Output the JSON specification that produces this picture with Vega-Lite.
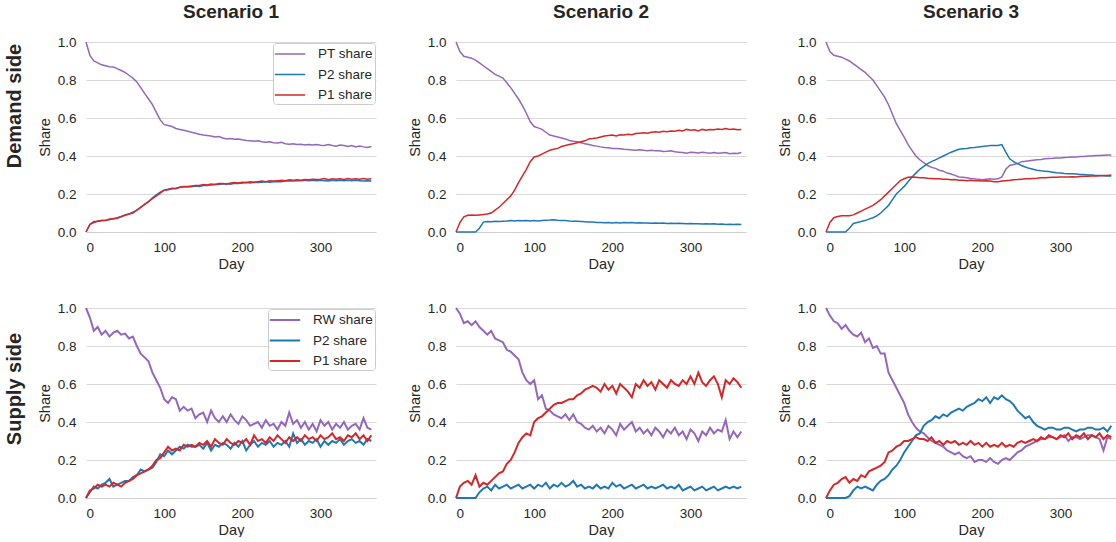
{
"$schema":"https://vega.github.io/schema/vega-lite/v6.json",
"padding":{"left":5,"top":3,"right":0,"bottom":0},
"background":"white",
"config":{
 "view":{"stroke":null},
 "font":"Liberation Sans",
 "axis":{"labelFont":"Liberation Sans","titleFont":"Liberation Sans","labelFontSize":13.5,"titleFontSize":14.5,"labelColor":"#262626","titleColor":"#262626","titleFontWeight":"normal","ticks":false,"tickSize":0,"domain":false,"gridColor":"#d9d9d9","gridWidth":1},
 "axisX":{"grid":false,"domain":true,"domainColor":"#d0d0d0","domainWidth":1.2,"labelPadding":8,"titlePadding":4},
 "axisY":{"labelPadding":10,"titlePadding":5},
 "legend":{"labelFont":"Liberation Sans","labelFontSize":13.5,"labelColor":"#262626"}
},
"datasets":{
"d1":[
{"d":0,"a":1.0,"b":0,"c":0},{"d":5,"a":0.93,"b":0.04,"c":0.04},{"d":10,"a":0.90,"b":0.055,"c":0.05},{"d":15,"a":0.89,"b":0.055,"c":0.058},{"d":20,"a":0.88,"b":0.06,"c":0.06},{"d":25,"a":0.875,"b":0.062,"c":0.06},{"d":30,"a":0.87,"b":0.065,"c":0.068},{"d":35,"a":0.868,"b":0.07,"c":0.07},{"d":40,"a":0.86,"b":0.075,"c":0.072},{"d":45,"a":0.85,"b":0.082,"c":0.08},{"d":50,"a":0.84,"b":0.09,"c":0.088},{"d":55,"a":0.825,"b":0.095,"c":0.095},{"d":60,"a":0.81,"b":0.105,"c":0.10},{"d":65,"a":0.79,"b":0.115,"c":0.115},{"d":70,"a":0.76,"b":0.13,"c":0.13},{"d":75,"a":0.73,"b":0.145,"c":0.145},{"d":80,"a":0.70,"b":0.16,"c":0.16},{"d":85,"a":0.67,"b":0.18,"c":0.175},{"d":90,"a":0.63,"b":0.195,"c":0.19},{"d":95,"a":0.59,"b":0.21,"c":0.205},{"d":100,"a":0.565,"b":0.22,"c":0.22},{"d":105,"a":0.56,"b":0.225,"c":0.222},{"d":110,"a":0.555,"b":0.23,"c":0.228},{"d":115,"a":0.545,"b":0.228,"c":0.23},{"d":120,"a":0.54,"b":0.235,"c":0.235},{"d":125,"a":0.535,"b":0.238,"c":0.24},{"d":130,"a":0.53,"b":0.24,"c":0.238},{"d":135,"a":0.525,"b":0.238,"c":0.242},{"d":140,"a":0.52,"b":0.242,"c":0.245},{"d":145,"a":0.515,"b":0.24,"c":0.245},{"d":150,"a":0.51,"b":0.245,"c":0.25},{"d":155,"a":0.508,"b":0.245,"c":0.248},{"d":160,"a":0.505,"b":0.248,"c":0.252},{"d":165,"a":0.50,"b":0.25,"c":0.25},{"d":170,"a":0.502,"b":0.25,"c":0.255},{"d":175,"a":0.495,"b":0.252,"c":0.255},{"d":180,"a":0.49,"b":0.255,"c":0.252},{"d":185,"a":0.492,"b":0.252,"c":0.258},{"d":190,"a":0.488,"b":0.256,"c":0.26},{"d":195,"a":0.49,"b":0.255,"c":0.258},{"d":200,"a":0.485,"b":0.258,"c":0.262},{"d":205,"a":0.482,"b":0.26,"c":0.26},{"d":210,"a":0.48,"b":0.258,"c":0.265},{"d":215,"a":0.478,"b":0.262,"c":0.262},{"d":220,"a":0.48,"b":0.26,"c":0.265},{"d":225,"a":0.475,"b":0.262,"c":0.268},{"d":230,"a":0.472,"b":0.265,"c":0.265},{"d":235,"a":0.475,"b":0.262,"c":0.27},{"d":240,"a":0.47,"b":0.265,"c":0.268},{"d":245,"a":0.468,"b":0.266,"c":0.27},{"d":250,"a":0.472,"b":0.265,"c":0.272},{"d":255,"a":0.465,"b":0.268,"c":0.27},{"d":260,"a":0.462,"b":0.27,"c":0.275},{"d":265,"a":0.465,"b":0.268,"c":0.272},{"d":270,"a":0.46,"b":0.27,"c":0.275},{"d":275,"a":0.462,"b":0.27,"c":0.272},{"d":280,"a":0.458,"b":0.272,"c":0.276},{"d":285,"a":0.46,"b":0.27,"c":0.275},{"d":290,"a":0.458,"b":0.272,"c":0.278},{"d":295,"a":0.46,"b":0.27,"c":0.276},{"d":300,"a":0.457,"b":0.272,"c":0.278},{"d":305,"a":0.455,"b":0.27,"c":0.282},{"d":310,"a":0.46,"b":0.268,"c":0.275},{"d":315,"a":0.455,"b":0.272,"c":0.28},{"d":320,"a":0.452,"b":0.27,"c":0.278},{"d":325,"a":0.458,"b":0.272,"c":0.28},{"d":330,"a":0.455,"b":0.27,"c":0.276},{"d":335,"a":0.45,"b":0.272,"c":0.282},{"d":340,"a":0.455,"b":0.27,"c":0.278},{"d":345,"a":0.448,"b":0.272,"c":0.28},{"d":350,"a":0.452,"b":0.27,"c":0.278},{"d":355,"a":0.448,"b":0.268,"c":0.282},{"d":360,"a":0.445,"b":0.27,"c":0.278},{"d":365,"a":0.45,"b":0.268,"c":0.28}
],
"d2":[
{"d":0,"a":1.0,"b":0,"c":0},{"d":5,"a":0.95,"b":0,"c":0.05},{"d":10,"a":0.925,"b":0,"c":0.08},{"d":15,"a":0.92,"b":0,"c":0.088},{"d":20,"a":0.915,"b":0,"c":0.09},{"d":25,"a":0.905,"b":0,"c":0.088},{"d":30,"a":0.89,"b":0.02,"c":0.09},{"d":35,"a":0.875,"b":0.052,"c":0.092},{"d":40,"a":0.86,"b":0.055,"c":0.095},{"d":45,"a":0.845,"b":0.054,"c":0.10},{"d":50,"a":0.83,"b":0.056,"c":0.115},{"d":55,"a":0.82,"b":0.055,"c":0.13},{"d":60,"a":0.81,"b":0.057,"c":0.15},{"d":65,"a":0.785,"b":0.058,"c":0.17},{"d":70,"a":0.76,"b":0.06,"c":0.19},{"d":75,"a":0.73,"b":0.058,"c":0.22},{"d":80,"a":0.70,"b":0.06,"c":0.26},{"d":85,"a":0.665,"b":0.059,"c":0.295},{"d":90,"a":0.625,"b":0.06,"c":0.33},{"d":95,"a":0.58,"b":0.058,"c":0.37},{"d":100,"a":0.555,"b":0.06,"c":0.395},{"d":105,"a":0.548,"b":0.058,"c":0.40},{"d":110,"a":0.54,"b":0.06,"c":0.41},{"d":115,"a":0.525,"b":0.062,"c":0.42},{"d":120,"a":0.51,"b":0.063,"c":0.43},{"d":125,"a":0.505,"b":0.065,"c":0.435},{"d":130,"a":0.50,"b":0.062,"c":0.44},{"d":135,"a":0.495,"b":0.06,"c":0.45},{"d":140,"a":0.49,"b":0.06,"c":0.455},{"d":145,"a":0.482,"b":0.058,"c":0.46},{"d":150,"a":0.478,"b":0.057,"c":0.465},{"d":155,"a":0.475,"b":0.056,"c":0.47},{"d":160,"a":0.47,"b":0.055,"c":0.475},{"d":165,"a":0.465,"b":0.054,"c":0.48},{"d":170,"a":0.46,"b":0.053,"c":0.49},{"d":175,"a":0.455,"b":0.052,"c":0.492},{"d":180,"a":0.452,"b":0.05,"c":0.495},{"d":185,"a":0.448,"b":0.05,"c":0.50},{"d":190,"a":0.445,"b":0.049,"c":0.505},{"d":195,"a":0.443,"b":0.05,"c":0.508},{"d":200,"a":0.44,"b":0.048,"c":0.51},{"d":205,"a":0.44,"b":0.05,"c":0.505},{"d":210,"a":0.438,"b":0.048,"c":0.512},{"d":215,"a":0.435,"b":0.05,"c":0.51},{"d":220,"a":0.434,"b":0.049,"c":0.515},{"d":225,"a":0.432,"b":0.05,"c":0.512},{"d":230,"a":0.43,"b":0.048,"c":0.518},{"d":235,"a":0.433,"b":0.049,"c":0.52},{"d":240,"a":0.43,"b":0.047,"c":0.522},{"d":245,"a":0.428,"b":0.048,"c":0.52},{"d":250,"a":0.43,"b":0.046,"c":0.525},{"d":255,"a":0.427,"b":0.047,"c":0.528},{"d":260,"a":0.428,"b":0.046,"c":0.525},{"d":265,"a":0.424,"b":0.047,"c":0.53},{"d":270,"a":0.425,"b":0.045,"c":0.528},{"d":275,"a":0.427,"b":0.046,"c":0.532},{"d":280,"a":0.422,"b":0.045,"c":0.53},{"d":285,"a":0.42,"b":0.046,"c":0.535},{"d":290,"a":0.418,"b":0.045,"c":0.532},{"d":295,"a":0.415,"b":0.044,"c":0.54},{"d":300,"a":0.42,"b":0.045,"c":0.535},{"d":305,"a":0.418,"b":0.043,"c":0.538},{"d":310,"a":0.416,"b":0.044,"c":0.532},{"d":315,"a":0.42,"b":0.042,"c":0.54},{"d":320,"a":0.417,"b":0.043,"c":0.535},{"d":325,"a":0.415,"b":0.042,"c":0.54},{"d":330,"a":0.418,"b":0.043,"c":0.538},{"d":335,"a":0.414,"b":0.041,"c":0.542},{"d":340,"a":0.416,"b":0.042,"c":0.54},{"d":345,"a":0.418,"b":0.04,"c":0.545},{"d":350,"a":0.412,"b":0.041,"c":0.54},{"d":355,"a":0.415,"b":0.04,"c":0.542},{"d":360,"a":0.413,"b":0.041,"c":0.538},{"d":365,"a":0.418,"b":0.04,"c":0.54}
],
"d3":[
{"d":0,"a":1.0,"b":0,"c":0},{"d":5,"a":0.95,"b":0,"c":0.05},{"d":10,"a":0.93,"b":0,"c":0.075},{"d":15,"a":0.925,"b":0,"c":0.082},{"d":20,"a":0.92,"b":0,"c":0.085},{"d":25,"a":0.91,"b":0,"c":0.085},{"d":30,"a":0.90,"b":0.02,"c":0.085},{"d":35,"a":0.885,"b":0.045,"c":0.09},{"d":40,"a":0.87,"b":0.05,"c":0.10},{"d":45,"a":0.855,"b":0.055,"c":0.11},{"d":50,"a":0.84,"b":0.06,"c":0.12},{"d":55,"a":0.82,"b":0.068,"c":0.13},{"d":60,"a":0.80,"b":0.075,"c":0.14},{"d":65,"a":0.77,"b":0.085,"c":0.155},{"d":70,"a":0.74,"b":0.10,"c":0.17},{"d":75,"a":0.71,"b":0.12,"c":0.19},{"d":80,"a":0.67,"b":0.14,"c":0.21},{"d":85,"a":0.62,"b":0.17,"c":0.23},{"d":90,"a":0.57,"b":0.20,"c":0.25},{"d":95,"a":0.535,"b":0.22,"c":0.27},{"d":100,"a":0.50,"b":0.24,"c":0.28},{"d":105,"a":0.46,"b":0.265,"c":0.288},{"d":110,"a":0.43,"b":0.29,"c":0.29},{"d":115,"a":0.40,"b":0.31,"c":0.288},{"d":120,"a":0.38,"b":0.33,"c":0.285},{"d":125,"a":0.365,"b":0.345,"c":0.285},{"d":130,"a":0.35,"b":0.36,"c":0.283},{"d":135,"a":0.34,"b":0.37,"c":0.282},{"d":140,"a":0.335,"b":0.38,"c":0.28},{"d":145,"a":0.325,"b":0.39,"c":0.28},{"d":150,"a":0.32,"b":0.40,"c":0.278},{"d":155,"a":0.31,"b":0.41,"c":0.277},{"d":160,"a":0.305,"b":0.42,"c":0.275},{"d":165,"a":0.298,"b":0.428,"c":0.276},{"d":170,"a":0.29,"b":0.435,"c":0.273},{"d":175,"a":0.288,"b":0.438,"c":0.272},{"d":180,"a":0.285,"b":0.44,"c":0.27},{"d":185,"a":0.282,"b":0.443,"c":0.272},{"d":190,"a":0.28,"b":0.445,"c":0.27},{"d":195,"a":0.277,"b":0.448,"c":0.27},{"d":200,"a":0.275,"b":0.45,"c":0.268},{"d":205,"a":0.278,"b":0.452,"c":0.27},{"d":210,"a":0.28,"b":0.455,"c":0.268},{"d":215,"a":0.278,"b":0.455,"c":0.265},{"d":220,"a":0.28,"b":0.455,"c":0.265},{"d":225,"a":0.29,"b":0.46,"c":0.268},{"d":230,"a":0.33,"b":0.42,"c":0.27},{"d":235,"a":0.35,"b":0.385,"c":0.272},{"d":240,"a":0.355,"b":0.37,"c":0.275},{"d":245,"a":0.36,"b":0.36,"c":0.276},{"d":250,"a":0.37,"b":0.35,"c":0.278},{"d":255,"a":0.372,"b":0.342,"c":0.28},{"d":260,"a":0.375,"b":0.335,"c":0.28},{"d":265,"a":0.378,"b":0.33,"c":0.282},{"d":270,"a":0.38,"b":0.325,"c":0.283},{"d":275,"a":0.382,"b":0.322,"c":0.285},{"d":280,"a":0.385,"b":0.32,"c":0.285},{"d":285,"a":0.387,"b":0.318,"c":0.287},{"d":290,"a":0.388,"b":0.315,"c":0.288},{"d":295,"a":0.39,"b":0.312,"c":0.288},{"d":300,"a":0.39,"b":0.31,"c":0.29},{"d":305,"a":0.392,"b":0.308,"c":0.29},{"d":310,"a":0.393,"b":0.307,"c":0.29},{"d":315,"a":0.395,"b":0.306,"c":0.291},{"d":320,"a":0.395,"b":0.305,"c":0.29},{"d":325,"a":0.397,"b":0.303,"c":0.292},{"d":330,"a":0.398,"b":0.302,"c":0.293},{"d":335,"a":0.40,"b":0.30,"c":0.293},{"d":340,"a":0.40,"b":0.30,"c":0.295},{"d":345,"a":0.402,"b":0.298,"c":0.295},{"d":350,"a":0.403,"b":0.297,"c":0.296},{"d":355,"a":0.404,"b":0.296,"c":0.297},{"d":360,"a":0.405,"b":0.295,"c":0.298},{"d":365,"a":0.405,"b":0.295,"c":0.30}
],
"d4":[
{"d":0,"a":1.0,"b":0,"c":0},{"d":5,"a":0.95,"b":0.03,"c":0.04},{"d":10,"a":0.88,"b":0.06,"c":0.05},{"d":15,"a":0.90,"b":0.05,"c":0.07},{"d":20,"a":0.86,"b":0.07,"c":0.06},{"d":25,"a":0.88,"b":0.08,"c":0.07},{"d":30,"a":0.85,"b":0.10,"c":0.06},{"d":35,"a":0.87,"b":0.06,"c":0.08},{"d":40,"a":0.88,"b":0.07,"c":0.07},{"d":45,"a":0.86,"b":0.08,"c":0.06},{"d":50,"a":0.865,"b":0.09,"c":0.08},{"d":55,"a":0.84,"b":0.09,"c":0.09},{"d":60,"a":0.85,"b":0.11,"c":0.10},{"d":65,"a":0.80,"b":0.12,"c":0.12},{"d":70,"a":0.76,"b":0.15,"c":0.13},{"d":75,"a":0.74,"b":0.14,"c":0.14},{"d":80,"a":0.72,"b":0.15,"c":0.15},{"d":85,"a":0.66,"b":0.16,"c":0.17},{"d":90,"a":0.62,"b":0.19,"c":0.20},{"d":95,"a":0.58,"b":0.23,"c":0.21},{"d":100,"a":0.52,"b":0.22,"c":0.24},{"d":105,"a":0.50,"b":0.25,"c":0.27},{"d":110,"a":0.53,"b":0.23,"c":0.25},{"d":115,"a":0.52,"b":0.25,"c":0.26},{"d":120,"a":0.46,"b":0.27,"c":0.25},{"d":125,"a":0.48,"b":0.26,"c":0.28},{"d":130,"a":0.46,"b":0.28,"c":0.27},{"d":135,"a":0.47,"b":0.27,"c":0.28},{"d":140,"a":0.42,"b":0.27,"c":0.27},{"d":145,"a":0.44,"b":0.28,"c":0.29},{"d":150,"a":0.45,"b":0.26,"c":0.28},{"d":155,"a":0.40,"b":0.29,"c":0.30},{"d":160,"a":0.46,"b":0.25,"c":0.27},{"d":165,"a":0.42,"b":0.28,"c":0.31},{"d":170,"a":0.40,"b":0.27,"c":0.29},{"d":175,"a":0.43,"b":0.29,"c":0.28},{"d":180,"a":0.40,"b":0.28,"c":0.31},{"d":185,"a":0.44,"b":0.26,"c":0.29},{"d":190,"a":0.41,"b":0.29,"c":0.28},{"d":195,"a":0.39,"b":0.27,"c":0.30},{"d":200,"a":0.43,"b":0.30,"c":0.29},{"d":205,"a":0.41,"b":0.25,"c":0.31},{"d":210,"a":0.38,"b":0.28,"c":0.28},{"d":215,"a":0.39,"b":0.30,"c":0.33},{"d":220,"a":0.40,"b":0.27,"c":0.30},{"d":225,"a":0.37,"b":0.29,"c":0.31},{"d":230,"a":0.41,"b":0.28,"c":0.29},{"d":235,"a":0.38,"b":0.30,"c":0.32},{"d":240,"a":0.39,"b":0.27,"c":0.30},{"d":245,"a":0.36,"b":0.29,"c":0.33},{"d":250,"a":0.40,"b":0.28,"c":0.31},{"d":255,"a":0.38,"b":0.30,"c":0.29},{"d":260,"a":0.45,"b":0.27,"c":0.32},{"d":265,"a":0.39,"b":0.34,"c":0.30},{"d":270,"a":0.41,"b":0.29,"c":0.32},{"d":275,"a":0.37,"b":0.31,"c":0.30},{"d":280,"a":0.40,"b":0.28,"c":0.33},{"d":285,"a":0.36,"b":0.30,"c":0.31},{"d":290,"a":0.39,"b":0.29,"c":0.32},{"d":295,"a":0.35,"b":0.31,"c":0.30},{"d":300,"a":0.41,"b":0.27,"c":0.33},{"d":305,"a":0.38,"b":0.30,"c":0.31},{"d":310,"a":0.40,"b":0.28,"c":0.32},{"d":315,"a":0.36,"b":0.30,"c":0.34},{"d":320,"a":0.39,"b":0.29,"c":0.31},{"d":325,"a":0.37,"b":0.31,"c":0.32},{"d":330,"a":0.40,"b":0.28,"c":0.30},{"d":335,"a":0.36,"b":0.30,"c":0.33},{"d":340,"a":0.38,"b":0.31,"c":0.32},{"d":345,"a":0.39,"b":0.29,"c":0.34},{"d":350,"a":0.36,"b":0.30,"c":0.31},{"d":355,"a":0.42,"b":0.28,"c":0.33},{"d":360,"a":0.37,"b":0.31,"c":0.30},{"d":365,"a":0.36,"b":0.30,"c":0.33}
],
"d5":[
{"d":0,"a":1.0,"b":0,"c":0},{"d":5,"a":0.97,"b":0,"c":0.06},{"d":10,"a":0.92,"b":0,"c":0.08},{"d":15,"a":0.93,"b":0,"c":0.09},{"d":20,"a":0.91,"b":0,"c":0.07},{"d":25,"a":0.93,"b":0,"c":0.12},{"d":30,"a":0.90,"b":0.03,"c":0.06},{"d":35,"a":0.88,"b":0.05,"c":0.08},{"d":40,"a":0.86,"b":0.06,"c":0.07},{"d":45,"a":0.88,"b":0.04,"c":0.09},{"d":50,"a":0.84,"b":0.07,"c":0.11},{"d":55,"a":0.83,"b":0.05,"c":0.13},{"d":60,"a":0.82,"b":0.06,"c":0.14},{"d":65,"a":0.78,"b":0.07,"c":0.18},{"d":70,"a":0.77,"b":0.05,"c":0.20},{"d":75,"a":0.75,"b":0.06,"c":0.24},{"d":80,"a":0.73,"b":0.07,"c":0.29},{"d":85,"a":0.66,"b":0.05,"c":0.32},{"d":90,"a":0.62,"b":0.06,"c":0.34},{"d":95,"a":0.60,"b":0.07,"c":0.33},{"d":100,"a":0.62,"b":0.05,"c":0.40},{"d":105,"a":0.52,"b":0.07,"c":0.42},{"d":110,"a":0.54,"b":0.06,"c":0.43},{"d":115,"a":0.47,"b":0.08,"c":0.45},{"d":120,"a":0.46,"b":0.05,"c":0.47},{"d":125,"a":0.44,"b":0.07,"c":0.49},{"d":130,"a":0.43,"b":0.06,"c":0.50},{"d":135,"a":0.42,"b":0.08,"c":0.50},{"d":140,"a":0.44,"b":0.06,"c":0.51},{"d":145,"a":0.41,"b":0.07,"c":0.52},{"d":150,"a":0.44,"b":0.09,"c":0.52},{"d":155,"a":0.40,"b":0.06,"c":0.54},{"d":160,"a":0.39,"b":0.07,"c":0.55},{"d":165,"a":0.37,"b":0.05,"c":0.57},{"d":170,"a":0.36,"b":0.06,"c":0.58},{"d":175,"a":0.38,"b":0.05,"c":0.59},{"d":180,"a":0.35,"b":0.07,"c":0.58},{"d":185,"a":0.37,"b":0.05,"c":0.56},{"d":190,"a":0.34,"b":0.06,"c":0.60},{"d":195,"a":0.38,"b":0.05,"c":0.57},{"d":200,"a":0.36,"b":0.08,"c":0.59},{"d":205,"a":0.33,"b":0.06,"c":0.55},{"d":210,"a":0.39,"b":0.07,"c":0.60},{"d":215,"a":0.36,"b":0.05,"c":0.58},{"d":220,"a":0.38,"b":0.06,"c":0.56},{"d":225,"a":0.40,"b":0.07,"c":0.53},{"d":230,"a":0.35,"b":0.05,"c":0.60},{"d":235,"a":0.37,"b":0.06,"c":0.58},{"d":240,"a":0.34,"b":0.07,"c":0.62},{"d":245,"a":0.36,"b":0.05,"c":0.59},{"d":250,"a":0.33,"b":0.06,"c":0.61},{"d":255,"a":0.37,"b":0.05,"c":0.57},{"d":260,"a":0.35,"b":0.06,"c":0.62},{"d":265,"a":0.32,"b":0.07,"c":0.60},{"d":270,"a":0.36,"b":0.05,"c":0.58},{"d":275,"a":0.34,"b":0.06,"c":0.62},{"d":280,"a":0.37,"b":0.05,"c":0.60},{"d":285,"a":0.33,"b":0.07,"c":0.59},{"d":290,"a":0.35,"b":0.04,"c":0.62},{"d":295,"a":0.31,"b":0.05,"c":0.60},{"d":300,"a":0.36,"b":0.06,"c":0.64},{"d":305,"a":0.34,"b":0.04,"c":0.60},{"d":310,"a":0.30,"b":0.05,"c":0.66},{"d":315,"a":0.35,"b":0.06,"c":0.61},{"d":320,"a":0.33,"b":0.04,"c":0.59},{"d":325,"a":0.37,"b":0.05,"c":0.62},{"d":330,"a":0.34,"b":0.06,"c":0.64},{"d":335,"a":0.36,"b":0.04,"c":0.60},{"d":340,"a":0.35,"b":0.05,"c":0.53},{"d":345,"a":0.41,"b":0.06,"c":0.62},{"d":350,"a":0.31,"b":0.05,"c":0.60},{"d":355,"a":0.35,"b":0.06,"c":0.63},{"d":360,"a":0.32,"b":0.05,"c":0.61},{"d":365,"a":0.35,"b":0.06,"c":0.58}
],
"d6":[
{"d":0,"a":1.0,"b":0,"c":0},{"d":5,"a":0.96,"b":0,"c":0.04},{"d":10,"a":0.93,"b":0,"c":0.07},{"d":15,"a":0.92,"b":0,"c":0.08},{"d":20,"a":0.89,"b":0,"c":0.10},{"d":25,"a":0.91,"b":0,"c":0.11},{"d":30,"a":0.88,"b":0.01,"c":0.08},{"d":35,"a":0.86,"b":0.04,"c":0.10},{"d":40,"a":0.85,"b":0.06,"c":0.09},{"d":45,"a":0.87,"b":0.05,"c":0.12},{"d":50,"a":0.82,"b":0.06,"c":0.11},{"d":55,"a":0.84,"b":0.05,"c":0.14},{"d":60,"a":0.79,"b":0.04,"c":0.15},{"d":65,"a":0.80,"b":0.07,"c":0.16},{"d":70,"a":0.76,"b":0.09,"c":0.17},{"d":75,"a":0.76,"b":0.10,"c":0.19},{"d":80,"a":0.66,"b":0.12,"c":0.24},{"d":85,"a":0.62,"b":0.15,"c":0.25},{"d":90,"a":0.58,"b":0.17,"c":0.27},{"d":95,"a":0.54,"b":0.20,"c":0.28},{"d":100,"a":0.50,"b":0.24,"c":0.30},{"d":105,"a":0.44,"b":0.27,"c":0.30},{"d":110,"a":0.40,"b":0.30,"c":0.31},{"d":115,"a":0.37,"b":0.33,"c":0.32},{"d":120,"a":0.35,"b":0.34,"c":0.31},{"d":125,"a":0.34,"b":0.38,"c":0.31},{"d":130,"a":0.32,"b":0.40,"c":0.30},{"d":135,"a":0.30,"b":0.41,"c":0.32},{"d":140,"a":0.29,"b":0.43,"c":0.29},{"d":145,"a":0.28,"b":0.42,"c":0.30},{"d":150,"a":0.27,"b":0.44,"c":0.28},{"d":155,"a":0.25,"b":0.43,"c":0.30},{"d":160,"a":0.24,"b":0.45,"c":0.29},{"d":165,"a":0.23,"b":0.46,"c":0.30},{"d":170,"a":0.24,"b":0.47,"c":0.28},{"d":175,"a":0.22,"b":0.46,"c":0.29},{"d":180,"a":0.21,"b":0.48,"c":0.28},{"d":185,"a":0.22,"b":0.49,"c":0.30},{"d":190,"a":0.19,"b":0.50,"c":0.28},{"d":195,"a":0.20,"b":0.52,"c":0.29},{"d":200,"a":0.20,"b":0.51,"c":0.27},{"d":205,"a":0.19,"b":0.53,"c":0.29},{"d":210,"a":0.21,"b":0.50,"c":0.27},{"d":215,"a":0.19,"b":0.53,"c":0.28},{"d":220,"a":0.18,"b":0.52,"c":0.27},{"d":225,"a":0.20,"b":0.54,"c":0.29},{"d":230,"a":0.21,"b":0.52,"c":0.27},{"d":235,"a":0.20,"b":0.51,"c":0.28},{"d":240,"a":0.22,"b":0.49,"c":0.27},{"d":245,"a":0.24,"b":0.46,"c":0.29},{"d":250,"a":0.25,"b":0.44,"c":0.30},{"d":255,"a":0.27,"b":0.42,"c":0.29},{"d":260,"a":0.28,"b":0.43,"c":0.30},{"d":265,"a":0.29,"b":0.40,"c":0.31},{"d":270,"a":0.30,"b":0.38,"c":0.30},{"d":275,"a":0.31,"b":0.37,"c":0.32},{"d":280,"a":0.31,"b":0.36,"c":0.31},{"d":285,"a":0.32,"b":0.37,"c":0.33},{"d":290,"a":0.32,"b":0.37,"c":0.32},{"d":295,"a":0.31,"b":0.36,"c":0.31},{"d":300,"a":0.32,"b":0.36,"c":0.33},{"d":305,"a":0.33,"b":0.37,"c":0.32},{"d":310,"a":0.30,"b":0.37,"c":0.34},{"d":315,"a":0.32,"b":0.36,"c":0.31},{"d":320,"a":0.32,"b":0.35,"c":0.33},{"d":325,"a":0.31,"b":0.36,"c":0.32},{"d":330,"a":0.32,"b":0.36,"c":0.34},{"d":335,"a":0.33,"b":0.37,"c":0.31},{"d":340,"a":0.33,"b":0.37,"c":0.33},{"d":345,"a":0.32,"b":0.36,"c":0.32},{"d":350,"a":0.31,"b":0.36,"c":0.34},{"d":355,"a":0.25,"b":0.37,"c":0.31},{"d":360,"a":0.32,"b":0.35,"c":0.33},{"d":365,"a":0.31,"b":0.38,"c":0.32}
]
},
"vconcat":[
{
"title":{"text":"Demand side","orient":"left","anchor":"middle","fontSize":20,"font":"Liberation Sans","fontWeight":"bold","color":"#262626","offset":12,"dx":31},
"bounds":"flush","spacing":80,
"resolve":{"scale":{"color":"independent"},"legend":{"color":"independent"}},
"hconcat":[
{"width":290,"height":190,"data":{"name":"d1"},
 "title":{"text":"Scenario 1","fontSize":19,"font":"Liberation Sans","fontWeight":"bold","color":"#262626","offset":13},
 "transform":[{"fold":["a","b","c"],"as":["k","v"]}],
 "mark":{"type":"line","strokeWidth":1.5},
 "encoding":{
  "x":{"field":"d","type":"quantitative","scale":{"domain":[0,371],"nice":false},"axis":{"title":"Day","values":[0,100,200,300]}},
  "y":{"field":"v","type":"quantitative","scale":{"domain":[0,1],"nice":false},"axis":{"title":"Share","values":[0,0.2,0.4,0.6,0.8,1],"format":".1f"}},
  "color":{"field":"k","type":"nominal","scale":{"domain":["a","b","c"],"range":["#9467bd","#1f77b4","#d62728"]},
   "legend":{"orient":"top-right","offset":1,"title":null,"labelExpr":"(datum.label=='a'?'PT share':datum.label=='b'?'P2 share':'P1 share')+'\u00a0\u00a0'","symbolType":"M-1.9,0H1.9","symbolSize":256,"symbolStrokeWidth":1.5,"strokeColor":"#cccccc","fillColor":"white","cornerRadius":3,"padding":2,"symbolOffset":6,"rowPadding":4.5,"labelOffset":19}}
 }},
{"width":290,"height":190,"data":{"name":"d2"},
 "title":{"text":"Scenario 2","fontSize":19,"font":"Liberation Sans","fontWeight":"bold","color":"#262626","offset":13},
 "transform":[{"fold":["a","b","c"],"as":["k","v"]}],
 "mark":{"type":"line","strokeWidth":1.5},
 "encoding":{
  "x":{"field":"d","type":"quantitative","scale":{"domain":[0,371],"nice":false},"axis":{"title":"Day","values":[0,100,200,300]}},
  "y":{"field":"v","type":"quantitative","scale":{"domain":[0,1],"nice":false},"axis":{"title":"Share","values":[0,0.2,0.4,0.6,0.8,1],"format":".1f"}},
  "color":{"field":"k","type":"nominal","scale":{"domain":["a","b","c"],"range":["#9467bd","#1f77b4","#d62728"]},"legend":null}
 }},
{"width":290,"height":190,"data":{"name":"d3"},
 "title":{"text":"Scenario 3","fontSize":19,"font":"Liberation Sans","fontWeight":"bold","color":"#262626","offset":13},
 "transform":[{"fold":["a","b","c"],"as":["k","v"]}],
 "mark":{"type":"line","strokeWidth":1.5},
 "encoding":{
  "x":{"field":"d","type":"quantitative","scale":{"domain":[0,371],"nice":false},"axis":{"title":"Day","values":[0,100,200,300]}},
  "y":{"field":"v","type":"quantitative","scale":{"domain":[0,1],"nice":false},"axis":{"title":"Share","values":[0,0.2,0.4,0.6,0.8,1],"format":".1f"}},
  "color":{"field":"k","type":"nominal","scale":{"domain":["a","b","c"],"range":["#9467bd","#1f77b4","#d62728"]},"legend":null}
 }}
]},
{
"title":{"text":"Supply side","orient":"left","anchor":"middle","fontSize":20,"font":"Liberation Sans","fontWeight":"bold","color":"#262626","offset":12,"dx":30},
"bounds":"flush","spacing":80,
"resolve":{"scale":{"color":"independent"},"legend":{"color":"independent"}},
"hconcat":[
{"width":290,"height":190,"data":{"name":"d4"},
 "transform":[{"fold":["a","b","c"],"as":["k","v"]}],
 "mark":{"type":"line","strokeWidth":2},
 "encoding":{
  "x":{"field":"d","type":"quantitative","scale":{"domain":[0,371],"nice":false},"axis":{"title":"Day","values":[0,100,200,300]}},
  "y":{"field":"v","type":"quantitative","scale":{"domain":[0,1],"nice":false},"axis":{"title":"Share","values":[0,0.2,0.4,0.6,0.8,1],"format":".1f"}},
  "color":{"field":"k","type":"nominal","scale":{"domain":["a","b","c"],"range":["#9467bd","#1f77b4","#d62728"]},
   "legend":{"orient":"top-right","offset":1,"title":null,"labelExpr":"(datum.label=='a'?'RW share':datum.label=='b'?'P2 share':'P1 share')+'\u00a0\u00a0'","symbolType":"M-1.9,0H1.9","symbolSize":256,"symbolStrokeWidth":2,"strokeColor":"#cccccc","fillColor":"white","cornerRadius":3,"padding":2,"symbolOffset":6,"rowPadding":4.5,"labelOffset":19}}
 }},
{"width":290,"height":190,"data":{"name":"d5"},
 "transform":[{"fold":["a","b","c"],"as":["k","v"]}],
 "mark":{"type":"line","strokeWidth":2},
 "encoding":{
  "x":{"field":"d","type":"quantitative","scale":{"domain":[0,371],"nice":false},"axis":{"title":"Day","values":[0,100,200,300]}},
  "y":{"field":"v","type":"quantitative","scale":{"domain":[0,1],"nice":false},"axis":{"title":"Share","values":[0,0.2,0.4,0.6,0.8,1],"format":".1f"}},
  "color":{"field":"k","type":"nominal","scale":{"domain":["a","b","c"],"range":["#9467bd","#1f77b4","#d62728"]},"legend":null}
 }},
{"width":290,"height":190,"data":{"name":"d6"},
 "transform":[{"fold":["a","b","c"],"as":["k","v"]}],
 "mark":{"type":"line","strokeWidth":2},
 "encoding":{
  "x":{"field":"d","type":"quantitative","scale":{"domain":[0,371],"nice":false},"axis":{"title":"Day","values":[0,100,200,300]}},
  "y":{"field":"v","type":"quantitative","scale":{"domain":[0,1],"nice":false},"axis":{"title":"Share","values":[0,0.2,0.4,0.6,0.8,1],"format":".1f"}},
  "color":{"field":"k","type":"nominal","scale":{"domain":["a","b","c"],"range":["#9467bd","#1f77b4","#d62728"]},"legend":null}
 }}
]}
],
"spacing":30,
"resolve":{"scale":{"color":"independent"},"legend":{"color":"independent"}}
}
